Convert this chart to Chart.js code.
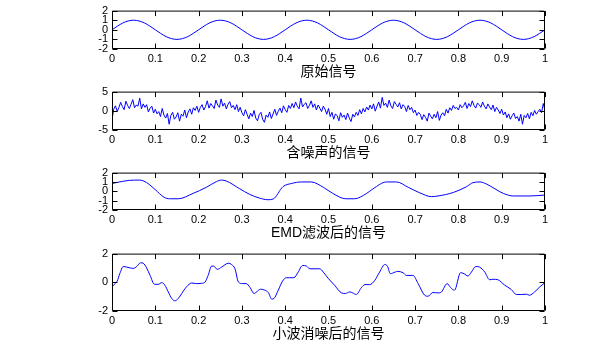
<!DOCTYPE html>
<html>
<head>
<meta charset="utf-8">
<script src="https://cdn.jsdelivr.net/npm/chart.js@4"></script>
<style>
html,body{margin:0;padding:0;background:#fff;width:594px;height:343px;overflow:hidden;}
.w{position:absolute;left:0;width:594px;}
</style>
</head>
<body>
<div class="w" id="w1" style="top:0px;height:81px"><canvas id="c1" width="594" height="81"></canvas></div>
<div class="w" id="w2" style="top:81px;height:81px"><canvas id="c2" width="594" height="81"></canvas></div>
<div class="w" id="w3" style="top:162px;height:80px"><canvas id="c3" width="594" height="80"></canvas></div>
<div class="w" id="w4" style="top:243px;height:100px"><canvas id="c4" width="594" height="100"></canvas></div>
<script>
// ---------- data ----------
const xTicks = [0,0.1,0.2,0.3,0.4,0.5,0.6,0.7,0.8,0.9,1];
const xTickLabels = ['0','0.1','0.2','0.3','0.4','0.5','0.6','0.7','0.8','0.9','1'];

const titles = ['原始信号','含噪声的信号','EMD滤波后的信号','小波消噪后的信号'];

const yTicks1 = [-2,-1,0,1,2];   const yLabels1 = ['-2','-1','0','1','2'];
const yTicks2 = [-5,0,5];        const yLabels2 = ['-5','0','5'];
const yTicks3 = [-2,-1,0,1,2];   const yLabels3 = ['-2','-1','0','1','2'];
const yTicks4 = [-2,0,2];        const yLabels4 = ['-2','0','2'];

// original signal, sampled every 0.0125
const originalY = [
 0,.38,.71,.92,1,.92,.71,.38,0,-.38,-.71,-.92,-1,-.92,-.71,-.38,
 0,.38,.71,.92,1,.92,.71,.38,0,-.38,-.71,-.92,-1,-.92,-.71,-.38,
 0,.38,.71,.92,1,.92,.71,.38,0,-.38,-.71,-.92,-1,-.92,-.71,-.38,
 0,.38,.71,.92,1,.92,.71,.38,0,-.38,-.71,-.92,-1,-.92,-.71,-.38,
 0,.38,.71,.92,1,.92,.71,.38,0,-.38,-.71,-.92,-1,-.92,-.71,-.38,
 0];

// noisy signal, sampled every 0.004
const noisyY = [
 -2.3,0.4,1.3,-0.2,0.9,2.2,1.1,0.3,2.5,1.4,0.6,1.7,2.9,0.8,1.5,1.2,3.3,0.5,1.8,0.9,1.6,-0.3,0.7,1.2,-0.6,0.4,-0.8,-0.2,-1.5,0.6,-1.1,-1.9,-0.7,-3.5,-1.2,-0.4,-2.2,-1.6,-0.5,-2.7,-0.9,-1.4,0.2,-1.8,-0.3,0.5,-0.9,0.8,0.1,1.2,
 -0.4,0.9,1.6,0.2,1.1,2.6,0.7,1.9,1.3,0.6,2.8,1.5,0.9,3.1,1.2,2.0,0.5,1.7,2.4,0.8,1.4,0.3,1.6,-0.2,0.9,-0.5,-1.3,0.3,-0.9,-2.1,-0.6,-1.5,0.1,-1.9,-2.6,-1.0,-0.4,-2.2,-3.0,-1.1,-1.7,-0.3,-2.0,-0.8,0.4,-1.2,-0.1,0.7,-0.5,1.3,
 0.3,-0.4,1.4,0.6,1.9,0.8,2.3,1.2,0.5,3.3,1.0,1.7,2.1,0.6,1.4,2.6,0.9,1.8,0.2,1.5,0.7,-0.2,1.2,0.4,-0.9,0.6,-1.5,-0.4,-2.2,-0.8,-1.3,-2.6,-0.5,-1.7,-1.1,-2.3,-0.6,-1.9,-2.8,-0.9,-1.6,-0.4,-1.2,0.3,-0.8,0.6,-0.3,1.0,0.2,1.5,
 0.5,1.8,-0.1,1.2,2.3,0.7,3.5,1.4,2.0,0.9,2.8,1.3,0.6,2.4,1.7,1.0,2.1,0.5,1.6,1.1,-0.2,1.4,0.3,0.9,-0.5,0.2,-1.2,-0.4,-0.9,-2.3,-1.0,-1.7,-2.7,-0.6,-1.4,-2.1,-0.9,-1.8,-0.2,-2.5,-1.1,-0.5,-1.3,0.4,-0.6,0.8,0.1,1.4,0.6,0.9,
 0.2,1.6,0.8,1.3,2.2,0.6,1.9,1.1,2.6,1.4,0.7,2.0,1.6,0.9,2.3,1.2,0.5,1.8,1.0,0.3,1.5,-0.2,0.9,0.2,-0.7,0.4,-1.1,-0.3,-1.8,-0.8,-2.2,-1.3,-0.6,-2.0,-1.5,-2.7,-0.9,-3.5,-1.2,-1.8,-0.7,-2.1,-0.4,-1.3,0.1,-0.9,-0.2,0.4,-0.5,1.9,0.0];

// EMD filtered signal
const emdX = [0,.01,.04,.064,.08,.1,.12,.133,.153,.187,.218,.241,.253,.264,.295,.318,.341,.36,.372,.395,.414,.438,.46,.488,.51,.54,.56,.588,.603,.634,.657,.684,.711,.738,.753,.788,.819,.834,.85,.865,.904,.927,.965,1];
const emdY = [.83,.93,1.17,1.2,.93,.17,-.63,-.8,-.8,-.23,.43,1.03,1.2,1.1,.27,-.33,-.73,-.9,-.83,.5,.83,1.0,1.0,.43,-.23,-.8,-.8,-.23,.27,1.0,1.0,.43,-.17,-.57,-.5,-.13,.5,.93,1.0,.77,-.23,-.5,-.5,-.4];

// wavelet denoised signal
const waveX = [0,.007,.012,.018,.026,.034,.042,.049,.057,.066,.072,.08,.088,.098,.107,.115,.122,.13,.138,.145,.153,.161,.172,.184,.195,.207,.215,.222,.23,.235,.243,.253,.269,.276,.284,.292,.302,.31,.319,.328,.334,.343,.353,.361,.369,.374,.384,.394,.403,.41,.42,.43,.44,.449,.457,.48,.488,.5,.514,.53,.539,.549,.556,.564,.576,.584,.595,.607,.618,.63,.636,.643,.648,.66,.672,.68,.695,.707,.722,.73,.741,.753,.761,.774,.782,.791,.805,.813,.822,.83,.84,.849,.861,.872,.88,.891,.907,.922,.934,.945,.957,.964,.976,.988,1];
const waveY = [-.32,-.09,.09,.6,1.1,1.06,1.0,.97,1.1,1.36,1.33,1.0,.48,-.14,-.14,-.02,-.2,-.67,-1.13,-1.29,-1.13,-.78,-.32,-.05,-.09,-.07,.02,.48,1.13,1.13,.9,1.06,1.33,1.24,.94,.02,-.09,-.09,-.37,-.78,-.67,-.48,-.55,-.71,-1.17,-1.13,-.55,.09,.32,.32,.32,.71,1.17,1.13,.94,.94,.71,.25,-.2,-.74,-.78,-.67,-.74,-.85,-.37,-.16,-.16,.14,.71,1.24,1.13,.6,.64,.76,.67,.48,.48,-.09,-.9,-.97,-.71,-.74,-.67,-.09,-.37,-.55,.67,.6,.44,.71,1.1,1.06,.71,.18,.21,.18,-.2,-.5,-.85,-.85,-.83,-.9,-.67,-.32,-.02];

// ---------- build ----------
function uniform(ys){ const n = ys.length - 1; return ys.map((y,i)=>({x:i/n, y})); }
function paired(xs, ys){ return xs.map((x,i)=>({x, y:ys[i]})); }

Chart.defaults.color = '#000';
Chart.defaults.font.family = '"Liberation Sans", Arial, "Noto Sans CJK SC", sans-serif';

const boxPlugin = {
  id: 'matlabBox',
  afterDraw(chart){
    const {ctx, chartArea:{left,right,top,bottom}} = chart;
    const xs = chart.scales.x, ys = chart.scales.y;
    ctx.save();
    ctx.strokeStyle = '#000';
    ctx.lineWidth = 1;
    ctx.beginPath();
    const L = left + 0.5, R = right - 0.5, T = top + 0.5, B = bottom - 0.5;
    ctx.rect(L, T, R - L, B - T);
    const tl = 5;
    xs.ticks.forEach(t=>{
      const p = Math.round(xs.getPixelForValue(t.value)) + 0.5;
      ctx.moveTo(p, B); ctx.lineTo(p, B - tl);
      ctx.moveTo(p, T); ctx.lineTo(p, T + tl);
    });
    ys.ticks.forEach(t=>{
      const p = Math.round(ys.getPixelForValue(t.value)) + 0.5;
      ctx.moveTo(L, p); ctx.lineTo(L + tl, p);
      ctx.moveTo(R, p); ctx.lineTo(R - tl, p);
    });
    ctx.stroke();
    ctx.restore();
  }
};

function makeChart(id, data, yMin, yMax, yT, yL, title, smooth){
  new Chart(document.getElementById(id), {
    type: 'line',
    data: { datasets: [{
      data, borderColor: '#0000ff', borderWidth: 1, pointRadius: 0,
      fill: false, tension: smooth ? 0.4 : 0,
      cubicInterpolationMode: smooth ? 'monotone' : 'default'
    }]},
    options: {
      responsive: false, animation: false, events: [],
      layout: { padding: { top: 10, right: 49, left: 0, bottom: 0 } },
      plugins: { legend: {display:false}, tooltip: {enabled:false} },
      scales: {
        x: {
          type: 'linear', min: 0, max: 1,
          grid: { display: false, drawTicks: false },
          border: { display: false },
          afterBuildTicks: s => { s.ticks = xTicks.map(v=>({value:v})); },
          afterFit: s => { s.height = 32; },
          ticks: { autoSkip: false, maxRotation: 0, padding: 3, font: {size: 11},
                   callback: v => xTickLabels[xTicks.indexOf(v)] },
          title: { display: true, text: title, padding: 0,
                   font: { size: 14, family: '"Liberation Sans", "Noto Sans CJK SC", sans-serif' } }
        },
        y: {
          type: 'linear', min: yMin, max: yMax,
          grid: { display: false, drawTicks: false },
          border: { display: false },
          afterBuildTicks: s => { s.ticks = yT.map(v=>({value:v})); },
          afterFit: s => { s.width = 112; },
          ticks: { autoSkip: false, padding: 4, font: {size: 11},
                   callback: v => yL[yT.indexOf(v)] }
        }
      }
    },
    plugins: [boxPlugin]
  });
}

makeChart('c1', uniform(originalY), -2, 2, yTicks1, yLabels1, titles[0], true);
makeChart('c2', uniform(noisyY), -5, 5, yTicks2, yLabels2, titles[1], false);
makeChart('c3', paired(emdX, emdY), -2, 2, yTicks3, yLabels3, titles[2], true);
makeChart('c4', paired(waveX, waveY), -2, 2, yTicks4, yLabels4, titles[3], true);
</script>
</body>
</html>
